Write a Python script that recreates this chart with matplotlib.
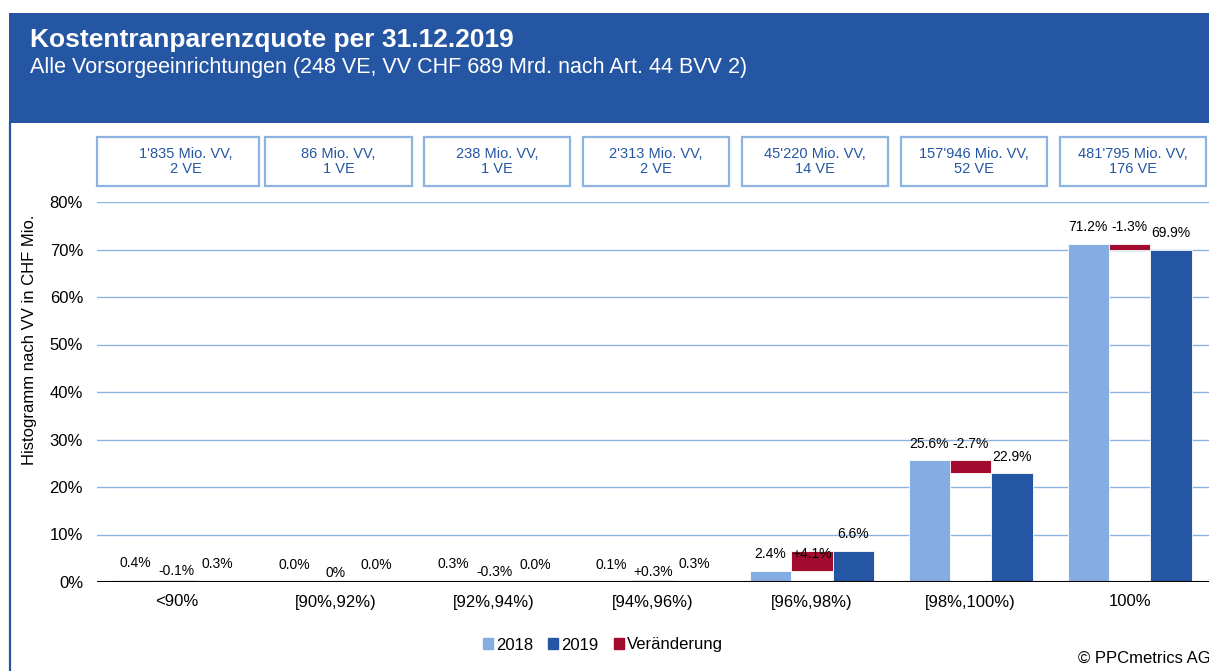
import numpy as np
import matplotlib.pyplot as plt
from matplotlib.patches import Rectangle, Patch
from matplotlib.lines import Line2D
import matplotlib.transforms as mtransforms

plt.rcParams['font.family'] = ['Liberation Sans', 'DejaVu Sans']

# data (in %)
categories = ['<90%', '[90%,92%)', '[92%,94%)', '[94%,96%)', '[96%,98%)', '[98%,100%)', '100%']
v2018 = [0.4, 0.0, 0.3, 0.1, 2.4, 25.6, 71.2]
v2019 = [0.3, 0.0, 0.0, 0.3, 6.6, 22.9, 69.9]
change = [-0.1, 0.0, -0.3, 0.3, 4.1, -2.7, -1.3]
vv_mio = ["1'835", "86", "238", "2'313", "45'220", "157'946", "481'795"]
n_ve = [2, 1, 1, 2, 14, 52, 176]

c18 = '#84ADE3'
c19 = '#2556A3'
cchg = '#A30B2E'
cgrid = '#8DB3E2'

W, H = 1209, 671
fig = plt.figure(figsize=(W / 100, H / 100), dpi=100)

# header band + left frame line
fig.add_artist(Rectangle((9 / W, 1 - 123 / H), 1, 110 / H, transform=fig.transFigure,
                         facecolor=c19, edgecolor='none'))
fig.add_artist(Line2D([10 / W, 10 / W], [0, 1 - 123 / H], transform=fig.transFigure,
                      color=c19, lw=1.6))
fig.text(30 / W, 1 - 47 / H, 'Kostentranparenzquote per 31.12.2019', color='white',
         fontsize=19, fontweight='bold', va='baseline')
fig.text(30 / W, 1 - 73 / H,
         'Alle Vorsorgeeinrichtungen (248 VE, VV CHF 689 Mrd. nach Art. 44 BVV 2)',
         color='white', fontsize=15.5, va='baseline')

ax = fig.add_axes([97 / W, 1 - 582 / H, (W - 97) / W, 380 / H])
x = np.arange(len(categories))
bw = 0.26
ax.bar(x - bw, v2018, bw, color=c18, edgecolor='white', lw=0.6, zorder=3)
ax.bar(x, change, bw, bottom=v2018, color=cchg, edgecolor='white', lw=0.6, zorder=3)
ax.bar(x + bw, v2019, bw, color=c19, edgecolor='white', lw=0.6, zorder=3)

for i in range(len(categories)):
    ax.annotate(f'{v2018[i]:.1f}%', (x[i] - bw, v2018[i]), xytext=(0, 12),
                textcoords='offset points', ha='center', va='center', fontsize=10, zorder=5)
    ax.annotate(f'{v2019[i]:.1f}%', (x[i] + bw, v2019[i]), xytext=(0, 12),
                textcoords='offset points', ha='center', va='center', fontsize=10, zorder=5)
    d = change[i]
    lab = '0%' if d == 0 else f'{d:+.1f}%'
    off = 12 if v2018[i] > 1 else 6.5
    ax.annotate(lab, (x[i], v2018[i]), xytext=(0, off), textcoords='offset points',
                ha='center', va='center', fontsize=10, zorder=5)

ax.set_xlim(-0.5, len(categories) - 0.5)
ax.set_ylim(0, 80)
ax.set_yticks(np.arange(0, 81, 10))
ax.set_yticklabels([f'{t}%' for t in range(0, 81, 10)])
ax.set_xticks(x)
ax.set_xticklabels(categories)
ax.tick_params(length=0, labelsize=12)
ax.tick_params(axis='y', pad=10)
ax.tick_params(axis='x', pad=9)
for s in ax.spines.values():
    s.set_visible(False)
for t in range(10, 81, 10):
    ax.axhline(t, color=cgrid, lw=1, zorder=1)
ax.axhline(0, color='black', lw=1.5, zorder=4)
ax.set_ylabel('Histogramm nach VV in CHF Mio.', fontsize=12)
ax.yaxis.set_label_coords(-60 / (W - 97), (582 - 340) / 380)

# boxes above categories
trans = mtransforms.blended_transform_factory(ax.transData, ax.transAxes)
y0 = 1 + (202 - 186) / 380
hb = (186 - 137) / 380
for i in range(len(categories)):
    left, right = x[i] - 0.46 + 0.02, x[i] + 0.46 + 0.02
    tx = x[i] + 0.02
    if i == 0:
        left, right = -0.5, 0.52
        tx = 0.06
    ax.add_patch(Rectangle((left, y0), right - left, hb, transform=trans, clip_on=False,
                           facecolor='white', edgecolor=cgrid, lw=1.6))
    ax.text(tx, y0 + hb / 2, f'{vv_mio[i]} Mio. VV,\n{n_ve[i]} VE',
            transform=trans, ha='center', va='center', fontsize=10.5, color=c19,
            linespacing=1.05)

handles = [Patch(color=c18, label='2018'), Patch(color=c19, label='2019'),
           Patch(color=cchg, label='Veränderung')]
fig.legend(handles=handles, loc='center', bbox_to_anchor=(603 / W, 1 - 645 / H), ncol=3,
           frameon=False, fontsize=12, handlelength=0.6, handleheight=0.6,
           handletextpad=0.2, columnspacing=0.9)
fig.text(1078 / W, 1 - 663 / H, '© PPCmetrics AG', fontsize=12, va='baseline')

fig.savefig('out.png', dpi=100)
